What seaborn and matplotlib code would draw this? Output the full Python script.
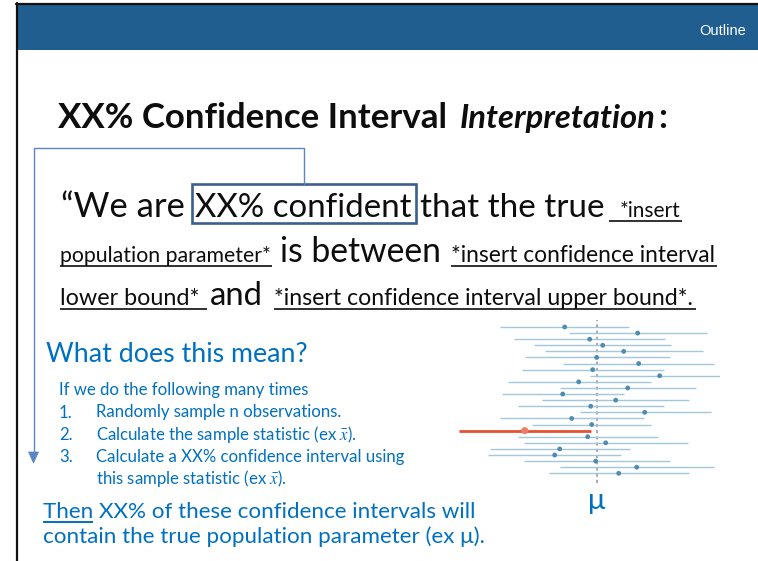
import numpy as np
import pandas as pd
import matplotlib
matplotlib.use("Agg")
import matplotlib.pyplot as plt
import seaborn as sns
from matplotlib.patches import Rectangle, Polygon
from matplotlib.lines import Line2D

# ---------------- data ----------------
sample_id = list(range(1, 26))
ci_lower = [-9.7, -2.8, -8.3, -6.3, -5.2, -7.2, -3.4, -7.5, -0.7, -8.9, -3.7, -9.5, -5.5,
            -7.9, -1.7, -9.7, -6.5, -13.8, -7.9, -7.3, -10.7, -10.9, -7.3, -3.7, -4.8]
ci_upper = [3.2, 11.0, 6.8, 7.4, 10.6, 7.3, 11.7, 6.7, 12.3, 5.4, 9.9, 2.7, 9.2,
            6.7, 11.4, 4.7, 5.4, -0.6, 6.1, 9.1, 3.3, 2.4, 7.3, 11.7, 9.2]
ci_estimate = [-3.2, 4.1, -0.7, 0.6, 2.7, 0.0, 4.2, -0.4, 6.3, -1.8, 3.1, -3.4, 1.9,
               -0.6, 4.8, -2.5, -0.5, -7.2, -0.9, 0.9, -3.7, -4.2, -0.1, 4.0, 2.2]
true_mu = 0.0

df = pd.DataFrame({"sample": sample_id, "lower": ci_lower, "upper": ci_upper,
                   "estimate": ci_estimate})
df["covers"] = (df["lower"] <= true_mu) & (df["upper"] >= true_mu)

# ---------------- figure ----------------
sns.set_style("white")
plt.rcParams["font.family"] = ["Lato", "DejaVu Sans"]
plt.rcParams["mathtext.fontset"] = "stix"

W, H = 758, 561
fig = plt.figure(figsize=(W / 100, H / 100), dpi=100)
fig.patch.set_facecolor("white")
R = fig.canvas.get_renderer()


def fx(x):
    return x / W


def fy(y):
    return 1 - y / H


def measure(s, size, **kw):
    t = fig.text(0, 0, s, fontsize=size, **kw)
    w = t.get_window_extent(renderer=R).width
    t.remove()
    return w


def fit(s, width, **kw):
    return 20.0 * width / measure(s, 20.0, **kw)


def put(x, yb, s, size, ha="left", **kw):
    return fig.text(fx(x), fy(yb), s, fontsize=size, ha=ha, va="baseline", **kw)


def put_fit(x0, x1, yb, s, **kw):
    return put(x0, yb, s, fit(s, x1 - x0, **kw), **kw)


def hline(x0, x1, y, color, lw):
    fig.add_artist(Line2D([fx(x0), fx(x1)], [fy(y), fy(y)], color=color, lw=lw,
                          transform=fig.transFigure, solid_capstyle="butt"))


BLUE = "#0070C0"
BLACK = "#0d0d0d"
CONN = "#5A85C2"

# header band and slide border
fig.add_artist(Rectangle((fx(18), fy(50)), fx(W) - fx(18), fy(5) - fy(50),
                         transform=fig.transFigure, facecolor="#1F5E8E", edgecolor="none"))
fig.add_artist(Line2D([fx(16), fx(W)], [fy(4), fy(4)], color="#111111", lw=1.6,
                      transform=fig.transFigure))
fig.add_artist(Line2D([fx(17), fx(17)], [fy(3), fy(H)], color="#111111", lw=1.6,
                      transform=fig.transFigure))
put(746, 35, "Outline", 10.5, ha="right", color="white", family="Liberation Sans")

# title
t_title = put_fit(58, 448, 128, "XX% Confidence Interval", weight="bold", color=BLACK)
put_fit(460, 655, 128, "Interpretation", weight="bold", style="italic", color=BLACK)
put(658, 128, ":", t_title.get_fontsize(), weight="bold", color=BLACK)

# interpretation sentence
put_fit(61, 185, 217, "\u201cWe are", color=BLACK)
put_fit(195, 412, 217, "XX% confident", color=BLACK)
put_fit(420, 605, 217, "that the true", color=BLACK)
put_fit(620, 681, 217, "*insert", color=BLACK)
hline(609, 682, 221, BLACK, 1.2)

put_fit(60, 271, 262, "population parameter*", color=BLACK)
hline(60, 272, 266, BLACK, 1.2)
put_fit(280, 442, 262, "is between", color=BLACK)
put_fit(451, 716, 262, "*insert confidence interval", color=BLACK)
hline(451, 717, 266, BLACK, 1.2)

put_fit(60, 200, 305, "lower bound*", color=BLACK)
hline(60, 207, 309, BLACK, 1.2)
put_fit(210, 263, 305, "and", color=BLACK)
put_fit(274, 695, 305, "*insert confidence interval upper bound*.", color=BLACK)
hline(274, 696, 309, BLACK, 1.2)

# highlight box and connector arrow
fig.add_artist(Rectangle((fx(192), fy(223)), fx(416) - fx(192), fy(184) - fy(223),
                         transform=fig.transFigure, facecolor="none",
                         edgecolor="#3D5F8C", lw=1.9))
fig.add_artist(Line2D([fx(304), fx(304), fx(33.5), fx(33.5)],
                      [fy(184), fy(148.5), fy(148.5), fy(453)],
                      color=CONN, lw=1.0, transform=fig.transFigure))
fig.add_artist(Polygon([[fx(28.5), fy(452)], [fx(38.5), fy(452)], [fx(33.5), fy(463)]],
                       closed=True, transform=fig.transFigure, facecolor=CONN,
                       edgecolor=CONN, lw=0.5))

# explanation
s_head = fit("What does this mean?", 261)
put(46, 362, "What does this mean?", s_head, color=BLUE)

s_list = fit("Calculate a XX% confidence interval using", 309)
put(59, 395, "If we do the following many times", s_list, color=BLUE)
put(59, 417.5, "1.", s_list, color=BLUE)
put(95.7, 417.5, "Randomly sample n observations.", s_list, color=BLUE)
put(59, 440, "2.", s_list, color=BLUE)
put(95.7, 440, r"Calculate the sample statistic (ex $\bar{x}$).", s_list, color=BLUE)
put(59, 462, "3.", s_list, color=BLUE)
put(95.7, 462, "Calculate a XX% confidence interval using", s_list, color=BLUE)
put(95.7, 484, r"this sample statistic (ex $\bar{x}$).", s_list, color=BLUE)

s_bot = fit("Then XX% of these confidence intervals will", 432)
put(43.3, 518.5, "Then XX% of these confidence intervals will", s_bot, color=BLUE)
hline(43.3, 92.7, 521.7, BLUE, 1.4)
put(43.3, 543, "contain the true population parameter (ex \u03bc).", s_bot, color=BLUE)

# ---------------- confidence-interval chart ----------------
ax = fig.add_axes([fx(450), fy(483), fx(720) - fx(450), fy(320) - fy(483)])
ax.axvline(true_mu, color="#A9A9A9", lw=1.4, ls=(0, (1.6, 1.6)), zorder=1)
line_colors = ["#A2C7DA" if c else "#E4522F" for c in df["covers"]]
line_widths = [1.0 if c else 2.0 for c in df["covers"]]
ax.hlines(df["sample"], df["lower"], df["upper"], colors=line_colors,
          linewidths=line_widths, zorder=2)
sns.scatterplot(data=df, x="estimate", y="sample", hue="covers", size="covers",
                palette={True: "#4F8CB4", False: "#EE7B63"},
                sizes={True: 12, False: 26}, linewidth=0, legend=False, ax=ax, zorder=3)
ax.set_xlim(-14.67, 12.33)
ax.set_ylim(26.59, -0.148)
ax.set_axis_off()

put(596.7, 509, "\u03bc", 21, ha="center", color=BLUE)

fig.savefig("out.png", dpi=100)
